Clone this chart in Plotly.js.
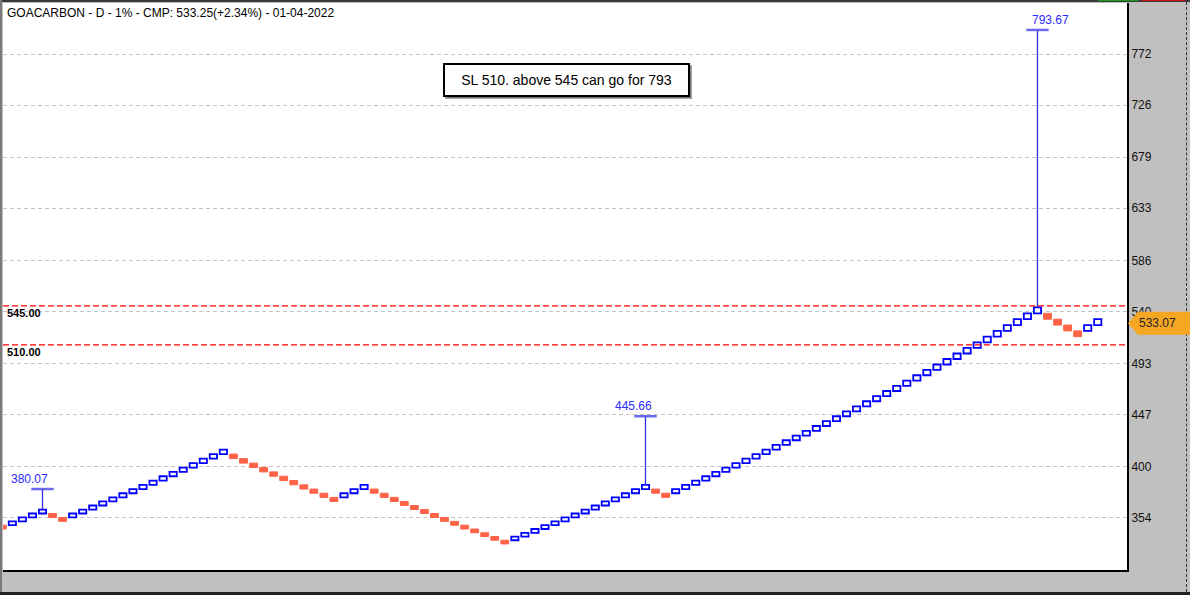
<!DOCTYPE html>
<html><head><meta charset="utf-8">
<script src="https://cdn.plot.ly/plotly-3.0.1.min.js"></script>
<style>
html,body{margin:0;padding:0;background:#c0c0c0;}
#wrap{position:relative;width:1190px;height:595px;background:#c0c0c0;overflow:hidden;}
.deco{position:absolute;}
#chart{position:absolute;left:0;top:0;width:1190px;height:595px;}
</style></head><body>
<div id="wrap">
<div class="deco" style="left:0;top:0;width:1190px;height:2px;background:#3a3a3a"></div>
<div class="deco" style="left:1098px;top:0;width:40px;height:1px;background:#1a9a1a"></div>
<div class="deco" style="left:1142px;top:0;width:43px;height:1px;background:#d01010"></div>
<div class="deco" style="left:0;top:0;width:2px;height:595px;background:#7a7a7a"></div>
<div class="deco" style="left:1186px;top:2px;width:0;height:590px;border-left:1px dashed #333"></div>
<div class="deco" style="left:0;top:592px;width:1190px;height:3px;background:#222"></div>
<div id="chart"></div>
</div>
<script>
// ---- data ----
const chartTitle = "GOACARBON - D - 1% - CMP: 533.25(+2.34%) - 01-04-2022";
const noteText = "SL 510. above 545 can go for 793";
const lastPrice = 533.07;
const stopLevel = 510;
const breakoutLevel = 545;

const brickDir = ["D","U","U","U","U","D","D",
 "U","U","U","U","U","U","U","U","U","U","U","U","U","U","U","U",
 "D","D","D","D","D","D","D","D","D","D","D",
 "U","U","U",
 "D","D","D","D","D","D","D","D","D","D","D","D","D","D",
 "U","U","U","U","U","U","U","U","U","U","U","U","U","U",
 "D","D",
 "U","U","U","U","U","U","U","U","U","U","U","U","U","U","U","U","U","U","U","U","U","U","U","U","U","U","U","U","U","U","U","U","U","U","U","U","U",
 "D","D","D","D",
 "U","U"];

const brickLow = [344.06,347.51,350.98,354.49,358.04,354.49,350.98,
 354.49,358.04,361.61,365.24,368.89,372.57,376.30,380.06,383.86,387.70,391.58,395.50,399.45,403.45,407.48,411.55,
 407.48,403.45,399.45,395.50,391.58,387.70,383.86,380.06,376.30,372.57,368.89,
 372.57,376.30,380.06,
 376.30,372.57,368.89,365.24,361.61,358.04,354.49,350.98,347.51,344.06,340.66,337.29,333.94,330.64,
 333.94,337.29,340.66,344.06,347.51,350.98,354.49,358.04,361.61,365.24,368.89,372.57,376.30,380.06,
 376.30,372.57,
 376.30,380.06,383.86,387.70,391.58,395.50,399.45,403.45,407.48,411.55,415.67,419.83,424.03,428.27,432.55,436.88,441.24,445.66,450.11,454.62,459.16,463.76,468.39,473.08,477.80,482.59,487.41,492.29,497.21,502.18,507.20,512.28,517.39,522.57,527.79,533.07,538.40,
 533.07,527.79,522.57,517.39,
 522.57,527.79];

const brickHigh = [347.51,350.98,354.49,358.04,361.61,358.04,354.49,
 358.04,361.61,365.24,368.89,372.57,376.30,380.06,383.86,387.70,391.58,395.50,399.45,403.45,407.48,411.55,415.67,
 411.55,407.48,403.45,399.45,395.50,391.58,387.70,383.86,380.06,376.30,372.57,
 376.30,380.06,383.86,
 380.06,376.30,372.57,368.89,365.24,361.61,358.04,354.49,350.98,347.51,344.06,340.66,337.29,333.94,
 337.29,340.66,344.06,347.51,350.98,354.49,358.04,361.61,365.24,368.89,372.57,376.30,380.06,383.86,
 380.06,376.30,
 380.06,383.86,387.70,391.58,395.50,399.45,403.45,407.48,411.55,415.67,419.83,424.03,428.27,432.55,436.88,441.24,445.66,450.11,454.62,459.16,463.76,468.39,473.08,477.80,482.59,487.41,492.29,497.21,502.18,507.20,512.28,517.39,522.57,527.79,533.07,538.40,543.79,
 538.40,533.07,527.79,522.57,
 527.79,533.07];

const targetBrick = [4, 64, 103];
const targetValue = [380.07, 445.66, 793.67];

const yTickVals = [354, 400, 447, 493, 540, 586, 633, 679, 726, 772];
const yTickText = ["354","400","447","493","540","586","633","679","726","772"];

// ---- style / layout constants ----
const FONT = "Liberation Sans, Arial, sans-serif";
const W = 1190, H = 595;
const M = {l:3, r:63, t:3, b:25};
const plotW = W - M.l - M.r, plotH = H - M.t - M.b;
const yRange = [307.14, 817.95];
const xRange = [0.07, 111.91];
const labelShift = [-13, -12, 13];
const unitsPerPx = (yRange[1]-yRange[0]) / plotH;

// ---- traces ----
const upX=[],upB=[],upH=[],dnX=[],dnB=[],dnH=[];
brickDir.forEach((d,i)=>{
  if(d==="U"){upX.push(i);upB.push(brickLow[i]);upH.push(brickHigh[i]-brickLow[i]);}
  else {dnX.push(i);dnB.push(brickLow[i]);dnH.push(brickHigh[i]-brickLow[i]);}
});

const stemX=[], stemY=[];
targetBrick.forEach((b,j)=>{stemX.push(b,b,null);stemY.push(brickHigh[b],targetValue[j],null);});

const traces = [
  {type:"bar", x:dnX, y:dnH, base:dnB, width:0.78,
   marker:{color:"#ff6347", line:{color:"#ff6347", width:1}}, hoverinfo:"skip", showlegend:false},
  {type:"bar", x:upX, y:upH, base:upB, width:0.72,
   marker:{color:"#ffffff", line:{color:"#0000ff", width:1.8}}, hoverinfo:"skip", showlegend:false},
  {type:"scatter", mode:"lines", x:stemX, y:stemY,
   line:{color:"#3030e0", width:1.3}, hoverinfo:"skip", showlegend:false},
  {type:"scatter", mode:"markers", x:targetBrick, y:targetValue,
   marker:{symbol:"line-ew", size:16, color:"rgba(80,80,235,0.85)", line:{color:"rgba(80,80,235,0.85)", width:2.5}},
   hoverinfo:"skip", showlegend:false, cliponaxis:false}
];

// ---- annotations ----
const annotations = [];
targetBrick.forEach((b,j)=>{
  annotations.push({x:b, y:targetValue[j], xref:"x", yref:"y", text:targetValue[j].toFixed(2),
    showarrow:false, yanchor:"bottom", xanchor:"center", xshift:labelShift[j], yshift:1,
    font:{family:FONT, size:12, color:"#2b2bff"}});
});
[breakoutLevel, stopLevel].forEach(v=>{
  annotations.push({x:0, xref:"paper", y:v, yref:"y", text:"<b>"+v.toFixed(2)+"</b>",
    showarrow:false, xanchor:"left", yanchor:"top", xshift:2, yshift:1,
    font:{family:FONT, size:11, color:"#000"}});
});
// note box shadow + note
const noteX = (566.5 - M.l)/plotW, noteY = 1 - (80 - M.t)/plotH;
annotations.push({x:noteX, y:noteY, xref:"paper", yref:"paper", xanchor:"center", yanchor:"middle",
  text:" ", showarrow:false,
  width:241, height:28, borderpad:1, borderwidth:2, bordercolor:"rgba(90,90,90,0.55)", bgcolor:"rgba(90,90,90,0.55)",
  xshift:2, yshift:-2});
annotations.push({x:noteX, y:noteY, xref:"paper", yref:"paper", xanchor:"center", yanchor:"middle",
  text:noteText, showarrow:false,
  width:241, height:28, borderpad:1, borderwidth:2, bordercolor:"#000", bgcolor:"#fff",
  font:{family:FONT, size:14, color:"#000"}});
// last price marker text
const px = v => 1 + v/plotW;
const mc = lastPrice - 4*unitsPerPx, hh = 11.5*unitsPerPx;
annotations.push({x:px(30), y:mc, xref:"paper", yref:"y", text:lastPrice.toFixed(2), showarrow:false,
  xanchor:"center", yanchor:"middle", font:{family:FONT, size:12, color:"#222"}});

// ---- shapes ----
const shapes = [
  {type:"line", xref:"paper", x0:0, x1:1, yref:"y", y0:breakoutLevel, y1:breakoutLevel,
   line:{color:"#ff0000", width:1.2, dash:"6px,3px"}},
  {type:"line", xref:"paper", x0:0, x1:1, yref:"y", y0:stopLevel, y1:stopLevel,
   line:{color:"#ff0000", width:1.2, dash:"6px,3px"}},
  {type:"path", xref:"paper", yref:"y", layer:"above",
   path:`M ${px(1)},${mc} L ${px(11)},${mc+hh} L ${px(64)},${mc+hh} L ${px(64)},${mc-hh} L ${px(11)},${mc-hh} Z`,
   fillcolor:"#f5a623", line:{width:0}}
];

const layout = {
  width:W, height:H, margin:M,
  paper_bgcolor:"rgba(0,0,0,0)", plot_bgcolor:"#ffffff",
  barmode:"overlay", bargap:0, showlegend:false,
  title:{text:chartTitle, font:{family:FONT, size:12, color:"#000"},
    x:7/W, xref:"container", xanchor:"left", y:1-13/H, yref:"container", yanchor:"middle"},
  xaxis:{range:xRange, showticklabels:false, showgrid:false, zeroline:false, ticks:"",
    showline:true, linecolor:"#000", linewidth:2, fixedrange:true},
  yaxis:{range:yRange, side:"right", tickvals:yTickVals, ticktext:yTickText, ticks:"",
    showgrid:true, gridcolor:"#c4c4c4", gridwidth:1, griddash:"4px,3px", zeroline:false,
    showline:true, linecolor:"#000", linewidth:2, fixedrange:true,
    tickfont:{family:FONT, size:12, color:"#111"}},
  annotations:annotations, shapes:shapes, hovermode:false
};

Plotly.newPlot("chart", traces, layout, {staticPlot:true, displayModeBar:false});
</script>
</body></html>
